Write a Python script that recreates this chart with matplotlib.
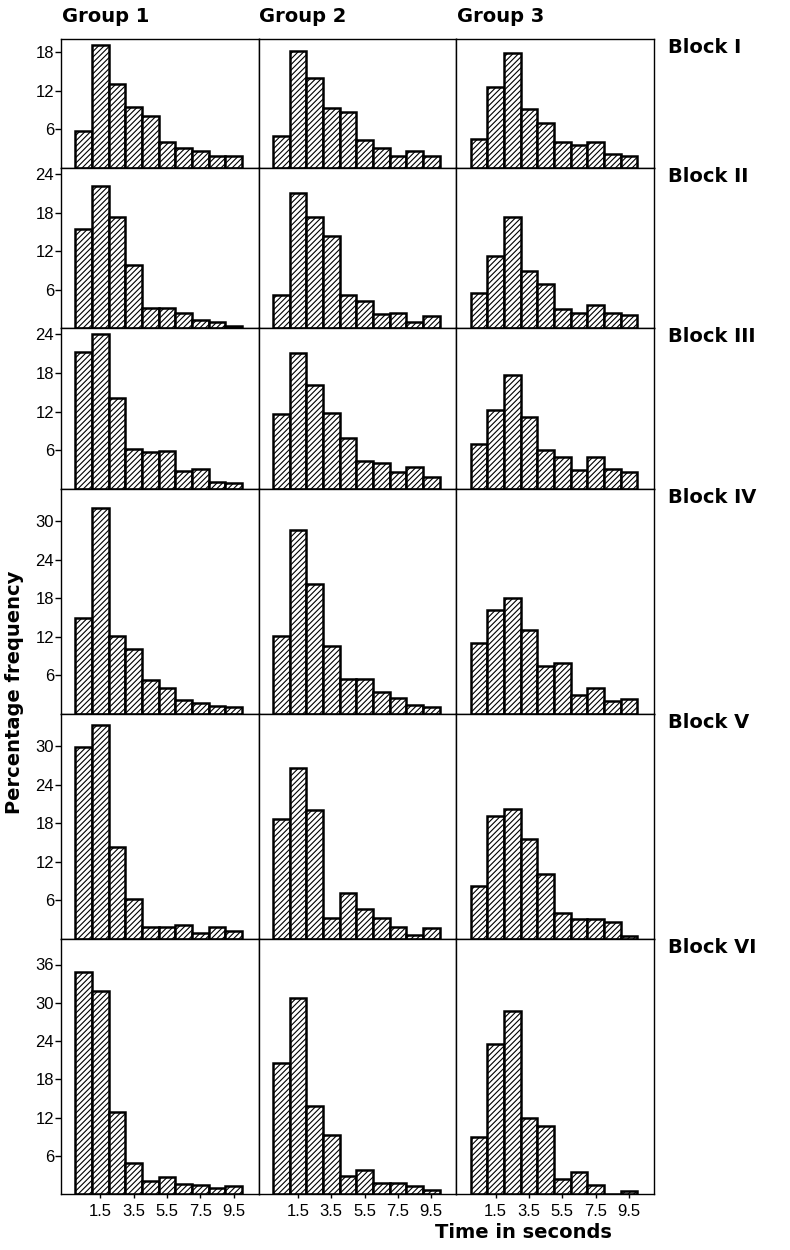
import numpy as np
import matplotlib.pyplot as plt

plt.rcParams['hatch.linewidth'] = 0.8

groups = ["Group 1", "Group 2", "Group 3"]
blocks = ["Block I", "Block II", "Block III", "Block IV", "Block V", "Block VI"]
bin_centres = np.arange(0.5, 10.0, 1.0)
x_ticks = [1.5, 3.5, 5.5, 7.5, 9.5]
x_tick_labels = ["1.5", "3.5", "5.5", "7.5", "9.5"]

# percentage frequency per 1-s bin, [group 1, group 2, group 3]
block_1 = [[5.7, 19.1, 13.0, 9.4, 8.0, 4.0, 3.1, 2.7, 1.8, 1.9],
           [4.9, 18.1, 13.9, 9.3, 8.7, 4.4, 3.1, 1.9, 2.7, 1.9],
           [4.5, 12.6, 17.8, 9.1, 7.0, 4.0, 3.6, 4.1, 2.2, 1.8]]
block_2 = [[15.5, 22.2, 17.3, 9.9, 3.2, 3.2, 2.3, 1.2, 1.0, 0.3],
           [5.2, 21.1, 17.3, 14.3, 5.2, 4.2, 2.2, 2.3, 1.0, 1.9],
           [5.4, 11.3, 17.3, 8.9, 6.8, 2.9, 2.4, 3.6, 2.3, 2.0]]
block_3 = [[21.2, 24.1, 14.1, 6.2, 5.8, 5.9, 2.8, 3.1, 1.1, 0.9],
           [11.7, 21.1, 16.1, 11.8, 7.9, 4.3, 4.1, 2.6, 3.4, 1.8],
           [7.0, 12.3, 17.7, 11.2, 6.1, 5.0, 3.0, 5.0, 3.1, 2.7]]
block_4 = [[15.0, 32.0, 12.2, 10.1, 5.3, 4.1, 2.2, 1.7, 1.3, 1.1],
           [12.1, 28.6, 20.2, 10.6, 5.5, 5.5, 3.5, 2.5, 1.4, 1.1],
           [11.0, 16.2, 18.1, 13.1, 7.4, 8.0, 3.0, 4.0, 2.0, 2.3]]
block_5 = [[29.8, 33.3, 14.3, 6.2, 1.9, 1.8, 2.2, 0.9, 1.8, 1.3],
           [18.6, 26.6, 20.0, 3.2, 7.2, 4.7, 3.3, 1.9, 0.6, 1.7],
           [8.2, 19.2, 20.2, 15.5, 10.1, 4.0, 3.1, 3.1, 2.7, 0.5]]
block_6 = [[34.9, 31.9, 12.8, 4.9, 2.1, 2.6, 1.6, 1.4, 0.9, 1.2],
           [20.6, 30.7, 13.8, 9.2, 2.9, 3.8, 1.8, 1.8, 1.2, 0.7],
           [9.0, 23.6, 28.7, 11.9, 10.6, 2.3, 3.5, 1.4, 0.0, 0.5]]
data = [block_1, block_2, block_3, block_4, block_5, block_6]

y_max = [20, 25, 25, 35, 35, 40]
y_ticks = [[6, 12, 18], [6, 12, 18, 24], [6, 12, 18, 24],
           [6, 12, 18, 24, 30], [6, 12, 18, 24, 30], [6, 12, 18, 24, 30, 36]]

W, H = 790, 1250
fig = plt.figure(figsize=(W / 100, H / 100), dpi=100)
gs = fig.add_gridspec(6, 3, height_ratios=[129, 160, 161, 225, 225, 255],
                      left=61 / W, right=654 / W, top=1 - 39 / H, bottom=1 - 1194 / H,
                      hspace=0, wspace=0)

tick_font = dict(family='Liberation Sans', size=12)
head_font = dict(family='DejaVu Sans', size=14, weight='heavy')

for r in range(6):
    for c in range(3):
        ax = fig.add_subplot(gs[r, c])
        ax.bar(bin_centres, data[r][c], width=1.0, facecolor='white',
               edgecolor='black', linewidth=1.8, hatch='//////')
        ax.set_xlim(-0.85, 11.0)
        ax.set_ylim(0, y_max[r])
        for s in ax.spines.values():
            s.set_linewidth(1.0)
        if c == 0:
            ax.set_yticks(y_ticks[r])
            ax.set_yticklabels([str(t) for t in y_ticks[r]], **tick_font)
            ax.tick_params(axis='y', direction='out', length=4, width=1, pad=1)
        else:
            ax.set_yticks([])
        if r == 5:
            ax.set_xticks(x_ticks)
            ax.set_xticklabels(x_tick_labels, **tick_font)
            ax.tick_params(axis='x', direction='out', length=3, width=1, pad=4)
        else:
            ax.set_xticks([])
        if r == 0:
            ax.annotate(groups[c], xy=(0, 1), xycoords='axes fraction',
                        xytext=(0.5, 12), textcoords='offset points',
                        ha='left', va='baseline', **head_font)
        if c == 2:
            ax.annotate(blocks[r], xy=(1, 1), xycoords='axes fraction',
                        xytext=(10, -10), textcoords='offset points',
                        ha='left', va='baseline', **head_font)

fig.text(15 / W, 1 - 692 / H, "Percentage frequency", rotation=90,
         ha='center', va='center', **head_font)
fig.text(523 / W, 1 - 1233 / H, "Time in seconds", ha='center', va='center',
         **head_font)

fig.savefig('out.png', dpi=100)
